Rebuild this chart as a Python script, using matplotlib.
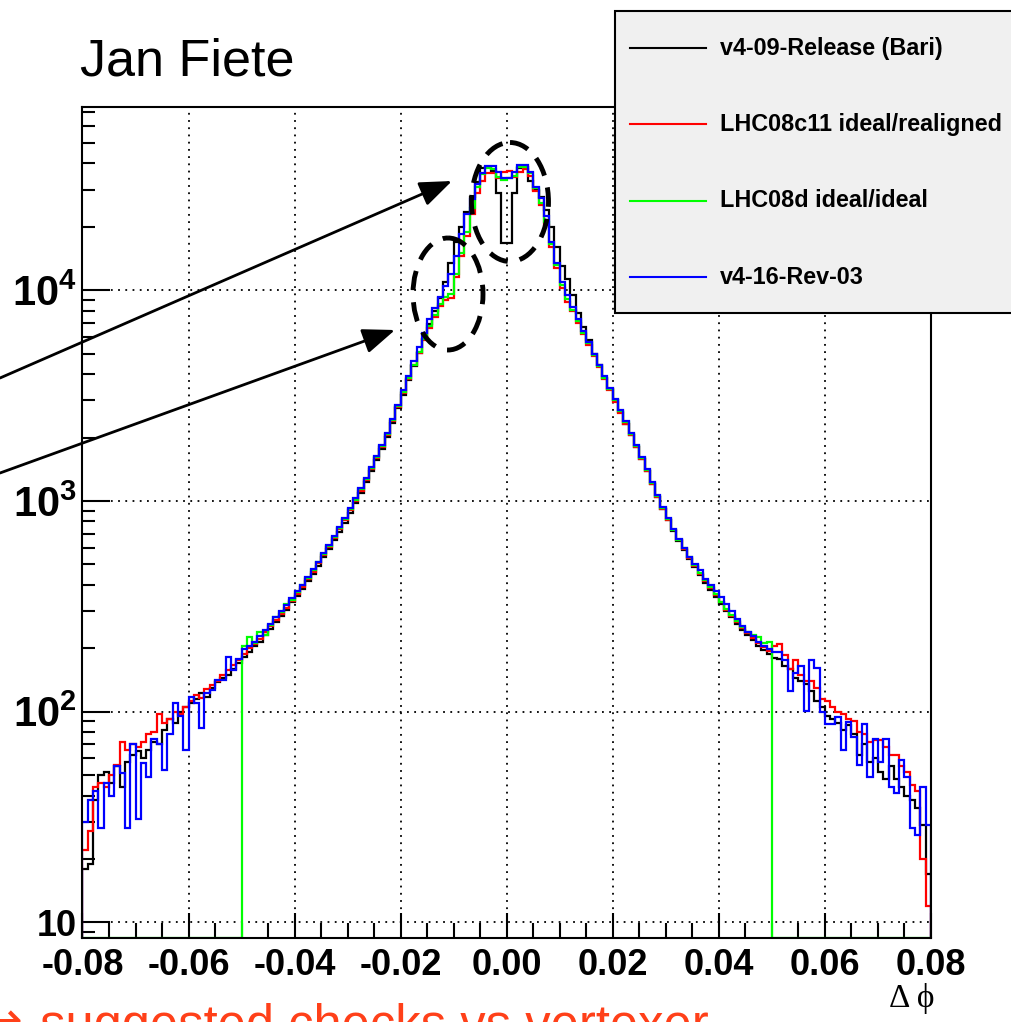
import numpy as np
import matplotlib
matplotlib.use("Agg")
import matplotlib.pyplot as plt
from matplotlib.patches import Ellipse, Rectangle
from matplotlib.ticker import MultipleLocator, LogLocator, NullFormatter

plt.rcParams['font.family'] = ['Liberation Sans', 'DejaVu Sans']
plt.rcParams['mathtext.fontset'] = 'custom'
plt.rcParams['mathtext.rm'] = 'Liberation Sans:bold'
plt.rcParams['mathtext.default'] = 'rm'

# histogram binning: 160 bins of 0.001 in delta phi
x_lo, x_hi, n_bins = -0.08, 0.08, 160

series_labels = ["v4-09-Release (Bari)", "LHC08c11 ideal/realigned",
                 "LHC08d ideal/ideal", "v4-16-Rev-03"]
series_colors = ["#000000", "#ff0000", "#00ff00", "#0000ff"]

xtick_vals = [-0.08, -0.06, -0.04, -0.02, 0.0, 0.02, 0.04, 0.06, 0.08]
xtick_labels = ["-0.08", "-0.06", "-0.04", "-0.02", "0.00", "0.02", "0.04", "0.06", "0.08"]
ytick_vals = [10, 100, 1000, 10000]
ytick_labels = ["10", r"$10^{2}$", r"$10^{3}$", r"$10^{4}$"]

# bin contents (left to right)
counts_black = [
    18, 19, 38, 50, 52, 46, 55, 44, 58, 62,
    65, 60, 66, 72, 70, 82, 92, 88, 100, 105,
    110, 115, 122, 118, 130, 138, 145, 150, 160, 170,
    182, 192, 205, 215, 230, 248, 265, 285, 305, 330,
    355, 382, 415, 452, 493, 540, 590, 650, 715, 790,
    880, 980, 1090, 1230, 1380, 1560, 1770, 2020, 2350, 2750,
    3200, 3750, 4350, 5050, 5900, 6900, 8000, 9200, 10900, 13400,
    17000, 20000, 23500, 27700, 32600, 37900, 38500, 37000, 28800, 16700,
    16700, 28800, 38000, 38500, 33000, 30000, 27700, 24000, 20000, 16000,
    13000, 11300, 9500, 7800, 6700, 5800, 5000, 4400, 3850, 3400,
    3000, 2640, 2330, 2060, 1810, 1590, 1390, 1200, 1050, 920,
    810, 720, 645, 585, 530, 485, 446, 410, 380, 352,
    325, 300, 280, 262, 245, 232, 220, 205, 196, 188,
    180, 178, 165, 160, 145, 140, 135, 125, 112, 105,
    95, 92, 88, 82, 86, 78, 62, 70, 58, 60,
    52, 48, 55, 48, 44, 40, 38, 35, 29, 17,
]
counts_red = [
    22, 27, 44, 46, 44, 50, 56, 72, 66, 70,
    68, 72, 78, 80, 98, 88, 92, 100, 97, 105,
    112, 120, 116, 128, 134, 140, 150, 158, 166, 175,
    188, 200, 210, 222, 238, 255, 272, 292, 312, 336,
    362, 390, 425, 462, 505, 552, 605, 665, 735, 812,
    905, 1005, 1120, 1260, 1420, 1600, 1810, 2060, 2400, 2800,
    3250, 3800, 4400, 5050, 5800, 6650, 7500, 8400, 9000, 9200,
    11500, 14500, 18000, 23000, 29000, 33000, 36000, 36000, 34000, 36500,
    37000, 34500, 36500, 37500, 35000, 29500, 25500, 20500, 16000, 12800,
    10200, 8800, 8000, 7000, 6200, 5500, 4850, 4300, 3800, 3350,
    2950, 2620, 2320, 2050, 1800, 1580, 1390, 1200, 1050, 920,
    815, 725, 650, 590, 535, 490, 450, 415, 385, 357,
    330, 305, 285, 265, 250, 236, 224, 212, 202, 195,
    205, 210, 185, 160, 175, 150, 140, 140, 130, 115,
    112, 105, 100, 98, 92, 90, 80, 78, 72, 73,
    73, 68, 62, 62, 55, 52, 45, 42, 20, 12,
]
counts_green = [
    0, 0, 0, 0, 0, 0, 0, 0, 0, 0,
    0, 0, 0, 0, 0, 0, 0, 0, 0, 0,
    0, 0, 0, 0, 0, 0, 0, 0, 0, 0,
    205, 225, 212, 240, 232, 258, 282, 296, 325, 340,
    368, 398, 430, 470, 512, 560, 612, 672, 742, 820,
    915, 1015, 1135, 1275, 1435, 1615, 1830, 2080, 2420, 2820,
    3280, 3820, 4420, 5100, 5850, 6750, 7600, 8600, 9300, 9600,
    12000, 15000, 19000, 24500, 31000, 35500, 38000, 37500, 34500, 33500,
    34000, 35000, 38500, 38500, 36000, 30500, 26000, 21000, 16500, 13200,
    10600, 9100, 8100, 7150, 6300, 5600, 4950, 4350, 3850, 3400,
    3000, 2660, 2360, 2080, 1830, 1600, 1400, 1215, 1060, 930,
    822, 732, 655, 595, 540, 495, 455, 420, 390, 360,
    332, 308, 288, 268, 252, 238, 230, 225, 212, 215,
    0, 0, 0, 0, 0, 0, 0, 0, 0, 0,
    0, 0, 0, 0, 0, 0, 0, 0, 0, 0,
    0, 0, 0, 0, 0, 0, 0, 0, 0, 0,
]
counts_blue = [
    30, 38, 42, 28, 46, 40, 55, 51, 28, 70,
    31, 57, 49, 74, 70, 53, 78, 110, 95, 66,
    118, 110, 84, 123, 127, 142, 142, 182, 158, 178,
    198, 205, 215, 228, 245, 262, 280, 300, 322, 345,
    372, 400, 435, 475, 515, 565, 620, 680, 750, 830,
    930, 1030, 1150, 1290, 1450, 1630, 1850, 2100, 2450, 2850,
    3350, 3900, 4600, 5400, 6300, 7300, 8200, 9300, 10500, 12000,
    14500, 18500, 23000, 27000, 32000, 36000, 39000, 39000, 36500, 34000,
    34000, 36500, 39500, 39500, 36500, 31000, 27500, 22500, 17000, 13500,
    11000, 9500, 8300, 7300, 6400, 5700, 5000, 4400, 3900, 3450,
    3050, 2700, 2400, 2100, 1850, 1620, 1420, 1230, 1070, 940,
    830, 740, 660, 600, 545, 500, 470, 425, 400, 375,
    350, 325, 300, 275, 255, 240, 228, 215, 205, 198,
    193, 193, 176, 125, 153, 165, 101, 176, 162, 100,
    87, 87, 94, 66, 89, 76, 56, 87, 49, 74,
    58, 74, 44, 41, 59, 49, 28, 26, 44, 29,
]

y_min, y_max = 8.43, 74100

fig = plt.figure(figsize=(10.12, 10.22), dpi=100)
ax = fig.add_axes([0.0815, 0.0822, 0.8384, 0.8131])

edges = np.linspace(x_lo, x_hi, n_bins + 1)
all_counts = [counts_black, counts_red, counts_green, counts_blue]
for counts, col in zip(all_counts, series_colors):
    c = np.array(counts, dtype=float)
    c = np.where(c > 0, c, y_min)  # empty bins sit on the frame like in ROOT
    ax.stairs(c, edges, baseline=y_min, color=col, lw=1.6)

ax.set_yscale('log')
ax.set_xlim(x_lo, x_hi)
ax.set_ylim(y_min, y_max)

ax.set_xticks(xtick_vals)
ax.set_xticklabels(xtick_labels, fontsize=26, fontweight='bold')
ax.xaxis.set_minor_locator(MultipleLocator(0.005))
ax.set_yticks(ytick_vals)
ylabs = ax.set_yticklabels(ytick_labels, fontsize=26, fontweight='bold')
for lab in ylabs[1:]:
    lab.set_fontsize(30)
ax.yaxis.set_minor_locator(LogLocator(base=10, subs=np.arange(2, 10)))
ax.yaxis.set_minor_formatter(NullFormatter())

ax.tick_params(axis='x', which='major', direction='in', length=18, width=1.5, pad=7)
ax.tick_params(axis='x', which='minor', direction='in', length=11, width=1.5)
ax.tick_params(axis='y', which='major', direction='in', length=20, width=1.5, pad=4)
ax.tick_params(axis='y', which='minor', direction='in', length=9.5, width=1.5)
for s in ax.spines.values():
    s.set_linewidth(1.5)

ax.set_axisbelow(True)
ax.grid(True, which='major', color='k', ls=(0, (1, 3)), lw=1.3)

# overlay in figure pixels for the slide annotations and legend
ov = fig.add_axes([0, 0, 1, 1])
ov.set_xlim(0, 1012)
ov.set_ylim(1022, 0)
ov.axis('off')
ov.patch.set_alpha(0)

ov.text(80, 75, "Jan Fiete", fontsize=37.5, va='baseline')

# legend box (cut by the right edge)
ov.add_patch(Rectangle((615, 11), 420, 302, fc='#f0f0f0', ec='k', lw=1.5))
for i, (lab, col) in enumerate(zip(series_labels, series_colors)):
    yy = 48 + 76.4 * i
    ov.plot([630, 706], [yy, yy], color=col, lw=1.5)
    ov.text(720, yy, lab, fontsize=16.8, fontweight='bold', va='center')

# dashed ellipses and arrows
for cx, cy, w, h in [(510, 202, 77, 119), (448, 294, 70, 112)]:
    ov.add_patch(Ellipse((cx, cy), w, h, fill=False, ec='k', lw=3.5, ls=(0, (4, 2.5))))

arrow_kw = dict(arrowstyle='-|>,head_length=0.9,head_width=0.35', lw=2, color='k',
                mutation_scale=22, shrinkA=0, shrinkB=0)
ov.annotate('', xy=(452, 181), xytext=(0, 378), arrowprops=arrow_kw)
ov.annotate('', xy=(395, 330), xytext=(0, 473), arrowprops=arrow_kw)

ov.text(935, 999, "Δ ϕ", family='Liberation Serif', fontsize=24, ha='right', va='center')

# slide footer, cut by the bottom edge as in the original
ov.text(-20, 1037, "→", family='DejaVu Sans', color='#ff4019', fontsize=36,
        va='baseline', clip_on=False)
ov.text(40, 1041, "suggested checks vs vertexer", color='#ff4019', fontsize=36.5,
        va='baseline', clip_on=False)

fig.savefig("out.png", dpi=100)
